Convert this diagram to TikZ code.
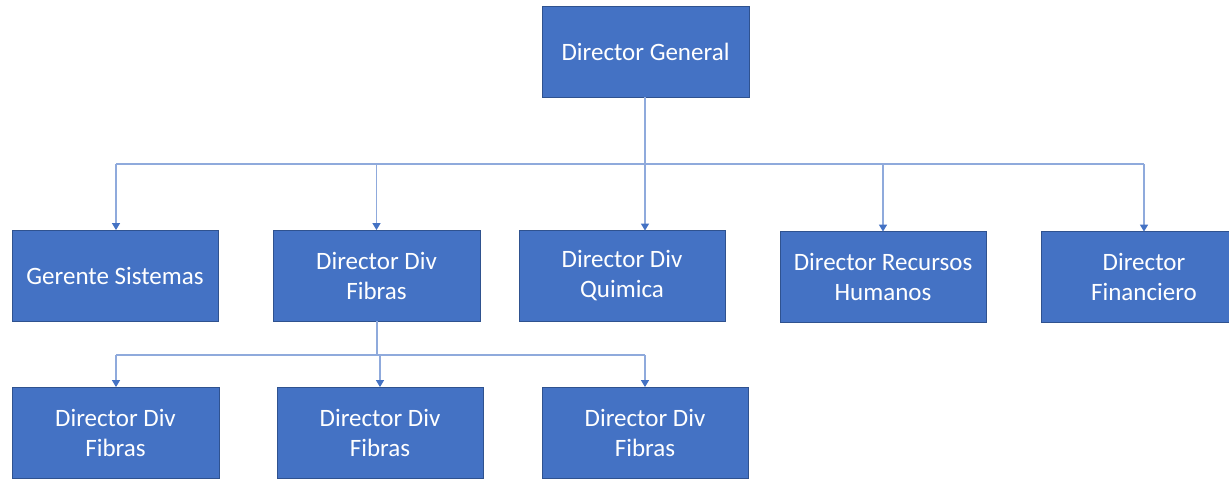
\documentclass[tikz,border=0pt]{standalone}
\usepackage{fontspec}
\setmainfont{Carlito}
\usetikzlibrary{arrows.meta}
\definecolor{boxfill}{HTML}{4472C4}
\definecolor{boxline}{HTML}{2F528F}
\definecolor{connline}{HTML}{8FAADC}
\definecolor{tipcol}{HTML}{4472C4}
\tikzset{
  orgbox/.style={rectangle, fill=boxfill, draw=boxline, line width=0.8pt,
    minimum width=206pt, minimum height=91pt, inner sep=0pt,
    text=white, align=center, font=\fontsize{25}{30}\selectfont},
  link/.style={draw=connline, line width=1.3pt},
  arr/.style={link, -{Triangle[width=8pt,length=7pt,color=tipcol]}, shorten >=-0.5pt},
}
\begin{document}
\begin{tikzpicture}[x=1pt,y=-1pt]
\useasboundingbox (0,0) rectangle (1229,479);
\clip (0,0) rectangle (1229,479);
% level 1
\node[orgbox, minimum width=207pt] (dg) at (645.5,51.5) {Director General};
% level 2
\node[orgbox] (gs) at (115,275.5) {Gerente Sistemas};
\node[orgbox, minimum width=207pt] (fib) at (376.5,275.5) {Director Div\\Fibras};
\node[orgbox] (qui) at (622,276) {Director Div\\Quimica};
\node[orgbox] (rh) at (883,277) {Director Recursos\\Humanos};
\node[orgbox] (fin) at (1144,277) {Director\\Financiero};
% level 3
\node[orgbox, minimum width=207pt] (f1) at (115.5,432.5) {Director Div\\Fibras};
\node[orgbox] (f2) at (380,432.5) {Director Div\\Fibras};
\node[orgbox] (f3) at (645,432.5) {Director Div\\Fibras};
% connectors level 1 -> 2
\coordinate (b1) at (645,164);
\coordinate (b1l) at (116,164);
\coordinate (b1r) at (1144,164);
\draw[link] (dg.south -| b1) -- (b1);
\draw[link] (b1l) -- (b1r);
\draw[arr] (b1l) -- (b1l |- gs.north);
\draw[arr] (b1 -| fib.north) -- (fib.north);
\draw[arr] (b1) -- (b1 |- qui.north);
\draw[arr] (b1 -| rh.north) -- (rh.north);
\draw[arr] (b1r) -- (b1r |- fin.north);
% connectors level 2 -> 3
\coordinate (b2) at (377,355);
\coordinate (b2l) at (116,355);
\coordinate (b2r) at (645,355);
\draw[link] (fib.south -| b2) -- (b2);
\draw[link] (b2l) -- (b2r);
\draw[arr] (b2l) -- (b2l |- f1.north);
\draw[arr] (b2 -| f2.north) -- (f2.north);
\draw[arr] (b2r) -- (b2r |- f3.north);
\end{tikzpicture}
\end{document}
